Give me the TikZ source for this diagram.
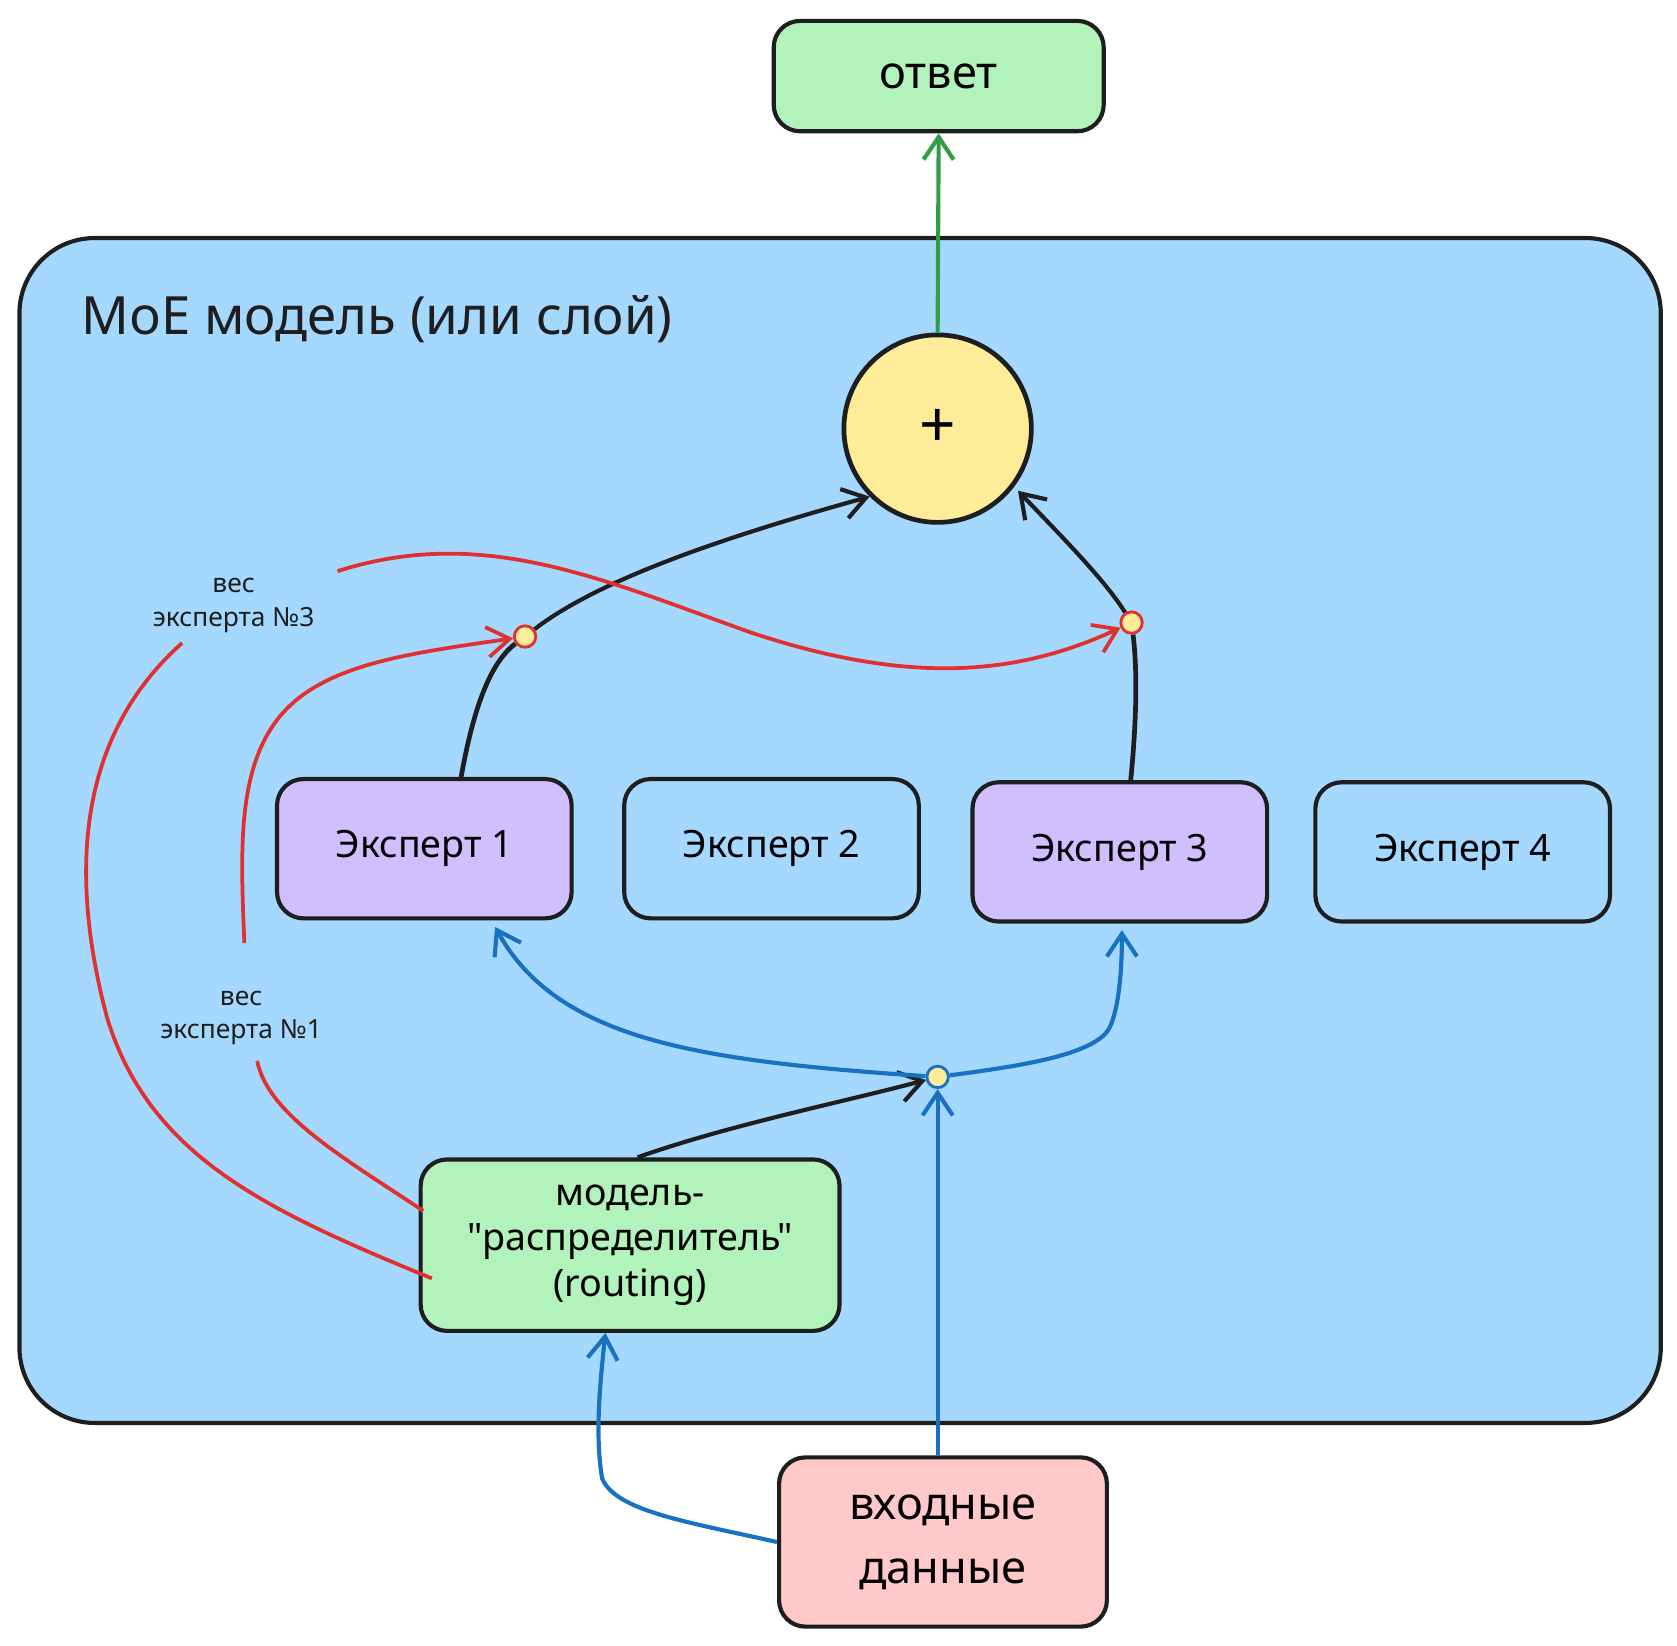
\documentclass[tikz,border=0pt]{standalone}
\usepackage{fontspec}
\setmainfont{Noto Sans}
\newfontfamily\plainnf{Noto Sans}
\usetikzlibrary{arrows.meta}
\definecolor{bluebg}{HTML}{A5D8FF}
\definecolor{greenf}{HTML}{B2F2BB}
\definecolor{purplef}{HTML}{D0BFFF}
\definecolor{pinkf}{HTML}{FFC9C9}
\definecolor{yellowf}{HTML}{FFEC99}
\definecolor{redl}{HTML}{E03131}
\definecolor{bluel}{HTML}{1971C2}
\definecolor{greenl}{HTML}{2F9E44}
\definecolor{ink}{HTML}{1E1E1E}
\begin{document}
\begin{tikzpicture}[x=0.02cm,y=-0.02cm,
 box/.style={draw=ink,line width=2.2pt,rounded corners=14pt,minimum width=5.5cm,minimum height=2.6cm,font=\fontsize{20}{24}\selectfont,align=center},
 dot/.style={circle,draw,fill=yellowf,line width=1.5pt,inner sep=0pt,minimum size=0.4cm},
 arr/.style={line width=2.2pt,-{Straight Barb[length=12pt,width=16pt]}},
 lab/.style={font=\fontsize{14}{18}\selectfont,align=center,text=ink}]
\useasboundingbox (0,0) rectangle (1565,1536);
\node[draw=ink,fill=bluebg,line width=2.2pt,rounded corners=40pt,minimum width=30.64cm,minimum height=22.12cm] (moe) at (784,775) {};
\node[anchor=west,font=\fontsize{28}{32}\selectfont,text=ink] (title) at (70,298) {MoE модель (или слой)};
\node[box,fill=greenf,minimum width=6.16cm,minimum height=2.06cm,font=\fontsize{24}{28}\selectfont\bfseries] (out) at (876,71) {ответ};
\node[circle,draw=ink,fill=yellowf,line width=2.5pt,minimum size=3.5cm,font=\fontsize{34}{34}\selectfont\bfseries] (sum) at (875,400) {+};
\node[box,fill=purplef] (e1) at (396,792) {Эксперт 1};
\node[box] (e2) at (720,792) {Эксперт 2};
\node[box,fill=purplef] (e3) at (1045,795) {Эксперт 3};
\node[box] (e4) at (1365,795) {Эксперт 4};
\node[box,fill=greenf,minimum width=7.82cm,minimum height=3.2cm,font=\fontsize{20}{24}\plainnf] (router) at (588,1162) {модель-\\"распределитель"\\(routing)};
\node[box,fill=pinkf,minimum width=6.12cm,minimum height=3.16cm,font=\fontsize{24}{34}\selectfont\bfseries] (inp) at (880,1439) {входные\\данные};
\node[lab] (w3) at (218,565) {вес\\эксперта №3};
\node[lab] (w1) at (225,950) {вес\\эксперта №1};
\node[dot,draw=redl] (d1) at (490,594) {};
\node[dot,draw=redl] (d3) at (1056,581) {};
\node[dot,draw=bluel] (db) at (875,1005) {};
% green
\draw[arr,greenl] (sum.north) -- (out.south);
% black
\draw[line width=2.5pt,ink] (430,727) .. controls (440,670) and (455,620) .. (d1);
\draw[arr,ink] (d1) .. controls (560,540) and (680,500) .. (sum.south west);
\draw[line width=2.5pt,ink] (1055,730) .. controls (1060,680) and (1062,630) .. (d3);
\draw[arr,ink] (d3) .. controls (1030,540) and (990,500) .. (950,458);
\draw[arr,ink] (595,1080) .. controls (680,1050) and (780,1030) .. (db);
% blue
\draw[arr,bluel] (db) .. controls (650,990) and (520,970) .. (462,865);
\draw[arr,bluel] (db) .. controls (950,995) and (1020,985) .. (1035,960) .. controls (1045,940) and (1047,900) .. (1047,868);
\draw[arr,bluel] (inp.north -| db) -- (db.south);
\draw[arr,bluel] (inp.west) .. controls (640,1420) and (575,1410) .. (562,1380) .. controls (555,1340) and (560,1290) .. (router.south -| 565,0);
% red
\draw[redl,line width=2pt] (403,1193) .. controls (250,1130) and (140,1080) .. (100,950) .. controls (60,800) and (80,680) .. (170,600);
\draw[arr,redl,line width=2pt] (315,533) .. controls (450,490) and (560,540) .. (700,590) .. controls (850,640) and (950,630) .. (d3);
\draw[redl,line width=2pt] (395,1130) .. controls (320,1080) and (250,1040) .. (240,990);
\draw[arr,redl,line width=2pt] (228,880) .. controls (225,800) and (220,720) .. (260,670) .. controls (300,620) and (380,610) .. (d1);
\end{tikzpicture}
\end{document}
